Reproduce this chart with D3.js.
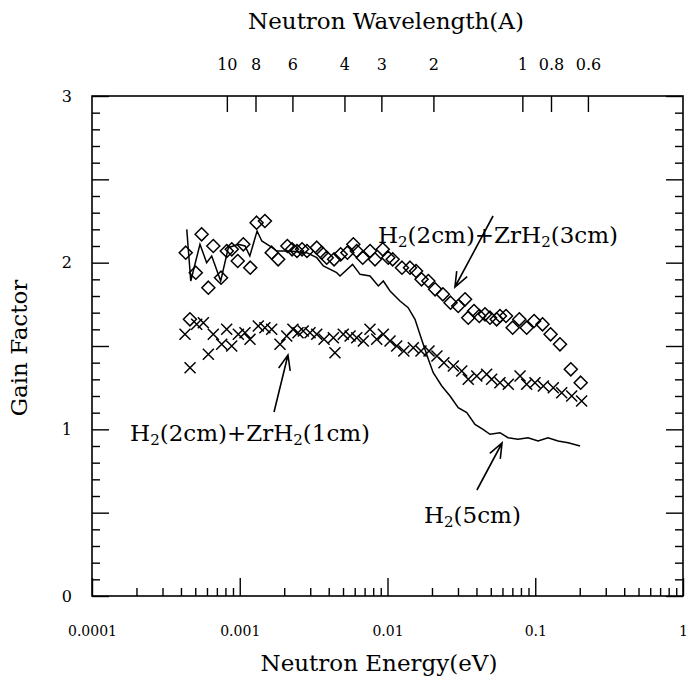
<!DOCTYPE html>
<html><head><meta charset="utf-8">
<script src="https://cdn.jsdelivr.net/npm/d3@7/dist/d3.min.js"></script>
<style>
body{margin:0;background:#fff;}
text{font-family:"DejaVu Serif",serif;fill:#000;}
</style></head>
<body><svg id="c" width="687" height="676"></svg>
<script>
// ---- data ----
const zr3Energy = [4.31e-4,4.6e-4,5.04e-4,5.52e-4,6.13e-4,6.62e-4,7.47e-4,8.17e-4,8.83e-4,9.69e-4,1.057e-3,1.178e-3,1.30e-3,1.48e-3,1.645e-3,1.82e-3,2.10e-3,2.26e-3,2.44e-3,2.64e-3,2.85e-3,3.32e-3,3.59e-3,3.88e-3,4.35e-3,4.82e-3,5.35e-3,5.87e-3,6.19e-3,6.80e-3,7.62e-3,8.23e-3,9.29e-3,1.012e-2,1.084e-2,1.253e-2,1.42e-2,1.56e-2,1.70e-2,1.89e-2,2.10e-2,2.37e-2,2.67e-2,3.01e-2,3.35e-2,3.52e-2,3.85e-2,4.18e-2,4.57e-2,4.94e-2,5.48e-2,5.77e-2,6.34e-2,7.03e-2,7.80e-2,8.75e-2,9.82e-2,0.112,0.127,0.147,0.174,0.203];
const zr3Gain = [2.06,1.66,1.94,2.17,1.85,2.10,1.91,2.07,2.08,2.01,2.11,1.97,2.24,2.25,2.06,2.02,2.10,2.08,2.07,2.08,2.07,2.09,2.06,2.03,2.02,2.05,2.06,2.11,2.07,2.03,2.07,2.02,2.08,2.03,2.02,1.97,1.97,1.95,1.90,1.89,1.84,1.81,1.76,1.74,1.78,1.67,1.71,1.68,1.69,1.67,1.66,1.68,1.68,1.61,1.66,1.61,1.65,1.63,1.57,1.51,1.36,1.28];

const zr1Energy = [4.26e-4,4.61e-4,5.11e-4,5.67e-4,6.13e-4,6.62e-4,7.55e-4,8.16e-4,8.82e-4,9.78e-4,1.085e-3,1.173e-3,1.335e-3,1.48e-3,1.645e-3,1.873e-3,2.08e-3,2.29e-3,2.48e-3,2.69e-3,2.99e-3,3.32e-3,3.72e-3,4.30e-3,4.41e-3,5.02e-3,5.58e-3,6.19e-3,6.86e-3,7.61e-3,8.45e-3,9.37e-3,1.04e-2,1.154e-2,1.29e-2,1.495e-2,1.685e-2,1.91e-2,2.16e-2,2.41e-2,2.79e-2,3.18e-2,3.52e-2,4.02e-2,4.69e-2,5.07e-2,5.77e-2,6.57e-2,7.89e-2,8.75e-2,9.96e-2,0.1134,0.1325,0.151,0.1765,0.206];
const zr1Gain = [1.57,1.37,1.63,1.64,1.45,1.57,1.51,1.60,1.50,1.57,1.58,1.54,1.62,1.61,1.60,1.51,1.56,1.60,1.58,1.59,1.58,1.57,1.54,1.55,1.46,1.57,1.56,1.55,1.53,1.60,1.54,1.57,1.53,1.50,1.47,1.49,1.47,1.47,1.44,1.40,1.38,1.35,1.30,1.32,1.33,1.30,1.28,1.27,1.32,1.27,1.28,1.26,1.25,1.22,1.20,1.17];

const h2Energy = [4.38e-4,4.66e-4,5.38e-4,5.97e-4,6.46e-4,7.43e-4,8.37e-4,9.77e-4,1.085e-3,1.17e-3,1.31e-3,1.41e-3,1.60e-3,1.78e-3,2.19e-3,2.84e-3,3.32e-3,3.68e-3,4.53e-3,4.77e-3,5.80e-3,6.52e-3,7.61e-3,8.67e-3,9.37e-3,1.04e-2,1.215e-2,1.38e-2,1.535e-2,1.70e-2,1.89e-2,2.04e-2,2.33e-2,2.65e-2,3.01e-2,3.44e-2,3.91e-2,4.43e-2,4.94e-2,5.77e-2,6.54e-2,7.64e-2,8.93e-2,0.1045,0.122,0.1426,0.167,0.201];
const h2Gain = [2.20,1.89,2.11,2.00,2.04,1.89,2.09,2.11,2.10,2.04,2.19,2.13,2.10,2.07,2.07,2.06,2.03,1.98,1.94,1.92,1.99,1.93,1.92,1.86,1.89,1.83,1.77,1.73,1.66,1.54,1.42,1.34,1.26,1.20,1.13,1.10,1.03,1.00,0.97,0.98,0.95,0.94,0.95,0.93,0.95,0.93,0.92,0.90];

const energyTicks = [1e-4,1e-3,1e-2,1e-1,1];
const energyTickLabels = ["0.0001","0.001","0.01","0.1","1"];
const gainTicks = [0,1,2,3];
const wavelengthTicks = [10,8,6,4,3,2,1,0.8,0.6];
const wavelengthTickLabels = ["10","8","6","4","3","2","1","0.8","0.6"];

// ---- layout ----
const L = 92, R = 683, T = 96, B = 596;
const svg = d3.select("#c");
const x = d3.scaleLog().domain([1e-4, 1]).range([L, R]);
const y = d3.scaleLinear().domain([0, 3]).range([B, T]);

// minor ticks
const minorE = [];
for (let d = -4; d < 0; d++) for (let k = 2; k <= 9; k++) minorE.push(k * Math.pow(10, d));
const minorG = d3.range(0, 31).map(i => i / 10).filter(v => Math.abs(v * 2 - Math.round(v * 2)) > 1e-6);
const halfG = d3.range(0, 7).map(i => i / 2);

function strip(g){ g.select(".domain").remove(); g.selectAll("line").attr("stroke","#000").attr("stroke-width",1.4); }

// bottom
svg.append("g").attr("transform",`translate(0,${B})`)
  .call(d3.axisBottom(x).tickValues(energyTicks).tickFormat((d,i)=>energyTickLabels[i]).tickSize(-18).tickPadding(30))
  .call(strip).call(g=>g.selectAll("text").attr("font-size",14).style("font-family","DejaVu Serif"));
svg.append("g").attr("transform",`translate(0,${B})`)
  .call(d3.axisBottom(x).tickValues(minorE).tickFormat("").tickSize(-8)).call(strip);
// top (wavelength)
const lamToE = l => 0.0818 / (l * l);
svg.append("g").attr("transform",`translate(0,${T})`)
  .call(d3.axisTop(x).tickValues(wavelengthTicks.map(lamToE)).tickFormat((d,i)=>wavelengthTickLabels[i]).tickSize(-16).tickPadding(26))
  .call(strip).call(g=>g.selectAll("text").attr("font-size",16).style("font-family","DejaVu Serif"));
// left
svg.append("g").attr("transform",`translate(${L},0)`)
  .call(d3.axisLeft(y).tickValues(gainTicks).tickFormat(d3.format("d")).tickSize(-17).tickPadding(20))
  .call(strip).call(g=>g.selectAll("text").attr("font-size",16).style("font-family","DejaVu Serif"));
svg.append("g").attr("transform",`translate(${L},0)`)
  .call(d3.axisLeft(y).tickValues(halfG.filter(v=>v%1!==0)).tickFormat("").tickSize(-17)).call(strip);
svg.append("g").attr("transform",`translate(${L},0)`)
  .call(d3.axisLeft(y).tickValues(minorG).tickFormat("").tickSize(-8)).call(strip);
// right
svg.append("g").attr("transform",`translate(${R},0)`)
  .call(d3.axisRight(y).tickValues(halfG).tickFormat("").tickSize(-17)).call(strip);
svg.append("g").attr("transform",`translate(${R},0)`)
  .call(d3.axisRight(y).tickValues(minorG).tickFormat("").tickSize(-8)).call(strip);

// frame
svg.append("rect").attr("x",L).attr("y",T).attr("width",R-L).attr("height",B-T)
  .attr("fill","none").attr("stroke","#000").attr("stroke-width",1.6);

// axis titles
svg.append("text").attr("x",386).attr("y",29).attr("text-anchor","middle").attr("font-size",23).text("Neutron Wavelength(A)");
svg.append("text").attr("x",379).attr("y",671).attr("text-anchor","middle").attr("font-size",23).text("Neutron Energy(eV)");
svg.append("text").attr("transform","translate(27,348) rotate(-90)").attr("text-anchor","middle").attr("font-size",23).text("Gain Factor");

// H2(5cm) line
const line = d3.line().x(d=>x(d[0])).y(d=>y(d[1]));
svg.append("path").datum(d3.zip(h2Energy,h2Gain)).attr("d",line)
  .attr("fill","none").attr("stroke","#000").attr("stroke-width",1.5);

// diamonds
const dsz = 6.5;
svg.append("g").selectAll("path").data(d3.zip(zr3Energy,zr3Gain)).join("path")
  .attr("d",d=>{const cx=x(d[0]),cy=y(d[1]);return `M${cx},${cy-dsz}L${cx+dsz},${cy}L${cx},${cy+dsz}L${cx-dsz},${cy}Z`;})
  .attr("fill","none").attr("stroke","#000").attr("stroke-width",1.5);
// crosses
const csz = 5.5;
svg.append("g").selectAll("path").data(d3.zip(zr1Energy,zr1Gain)).join("path")
  .attr("d",d=>{const cx=x(d[0]),cy=y(d[1]);return `M${cx-csz},${cy-csz}L${cx+csz},${cy+csz}M${cx+csz},${cy-csz}L${cx-csz},${cy+csz}`;})
  .attr("fill","none").attr("stroke","#000").attr("stroke-width",1.5);

// annotations
const arrows = [
  {from:[0.0518,2.28], to:[0.0286,1.854]},
  {from:[1.706e-3,1.104], to:[2.12e-3,1.446]},
  {from:[4.03e-2,0.636], to:[5.96e-2,0.918]}
];
arrows.forEach(a=>{
  const x1=x(a.from[0]),y1=y(a.from[1]),x2=x(a.to[0]),y2=y(a.to[1]);
  const ang=Math.atan2(y2-y1,x2-x1), hl=16, hw=0.38;
  svg.append("path").attr("d",
    `M${x1},${y1}L${x2},${y2}M${x2-hl*Math.cos(ang-hw)},${y2-hl*Math.sin(ang-hw)}L${x2},${y2}L${x2-hl*Math.cos(ang+hw)},${y2-hl*Math.sin(ang+hw)}`)
    .attr("fill","none").attr("stroke","#000").attr("stroke-width",1.6);
});
function label(e,g,parts){
  const t=svg.append("text").attr("x",x(e)).attr("y",y(g)).attr("font-size",23);
  parts.forEach(p=>{
    if(p.sub) t.append("tspan").attr("font-size",15).attr("dy",4).text(p.t);
    else t.append("tspan").attr("dy",p.after?-4:0).text(p.t);
  });
}
label(8.62e-3,2.118,[{t:"H"},{t:"2",sub:1},{t:"(2cm)+ZrH",after:1},{t:"2",sub:1},{t:"(3cm)",after:1}]);
label(1.81e-4,0.93,[{t:"H"},{t:"2",sub:1},{t:"(2cm)+ZrH",after:1},{t:"2",sub:1},{t:"(1cm)",after:1}]);
label(1.766e-2,0.438,[{t:"H"},{t:"2",sub:1},{t:"(5cm)",after:1}]);
</script></body></html>
